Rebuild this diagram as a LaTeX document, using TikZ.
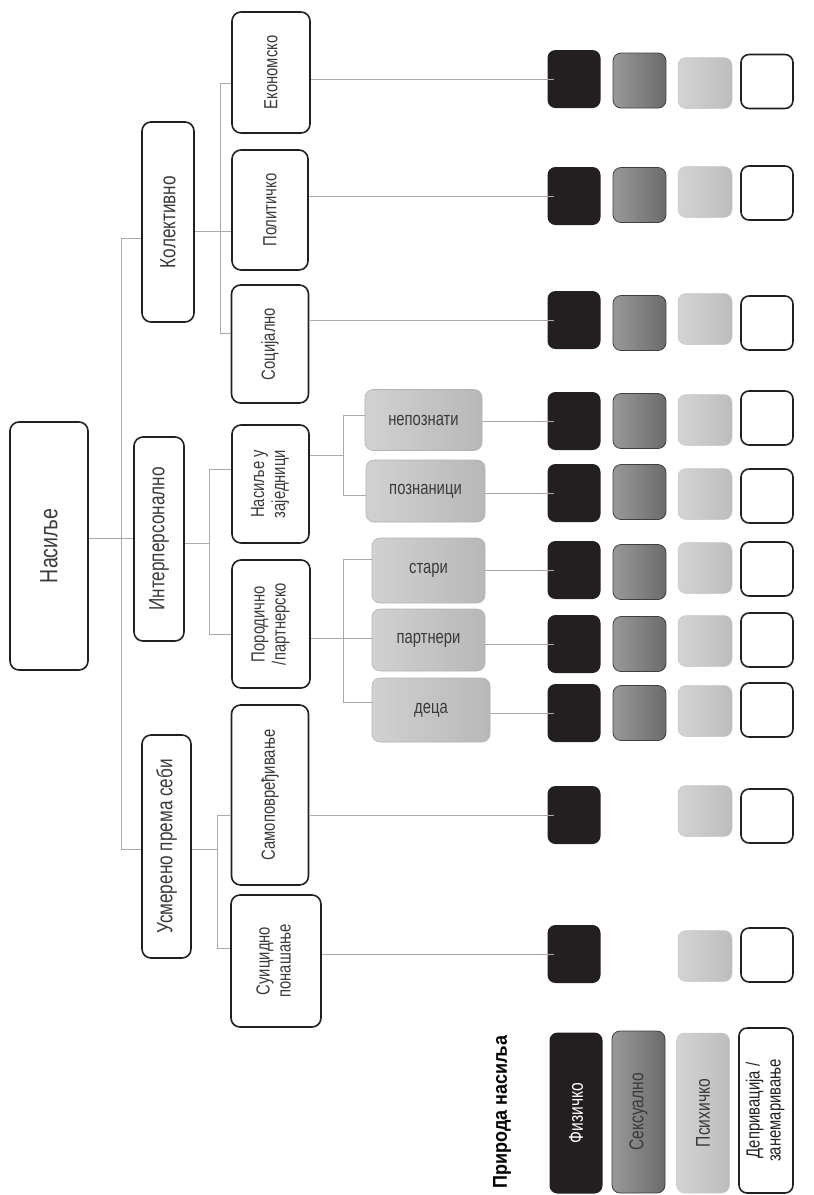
\documentclass[tikz,border=0pt]{standalone}
\usepackage{fontspec}
\usepackage{graphicx}
\setmainfont{Liberation Sans}[FakeStretch=0.78]
\newfontfamily\titlefont{Liberation Sans}[FakeStretch=0.9]
\definecolor{ink}{HTML}{231F20}
\definecolor{txt}{HTML}{3A3A3A}
\definecolor{wire}{HTML}{A7A9AC}

\begin{document}
\begin{tikzpicture}[x=1pt, y=-1pt, inner sep=0pt,
  box/.style={draw=ink, line width=1.6pt, rounded corners=9pt, fill=white, text=txt},
  gbox/.style={draw=black!30, line width=0.6pt, rounded corners=8pt, left color=black!18, right color=black!28, text=txt},
  blk/.style={fill=ink, rounded corners=8pt, minimum width=53pt, minimum height=58pt},
  drk/.style={draw=black!75, line width=0.8pt, rounded corners=8pt, left color=black!40, right color=black!58, minimum width=53pt, minimum height=55pt},
  lgt/.style={draw=black!22, line width=0.5pt, rounded corners=8pt, left color=black!17, right color=black!26, minimum width=54pt, minimum height=51pt},
  wht/.style={draw=ink, line width=1.6pt, rounded corners=8pt, fill=white, minimum width=52pt, minimum height=54pt},
  conn/.style={draw=wire, line width=0.9pt}]
\useasboundingbox (0,0) rectangle (814,1195);

% root and first level
\node[box, minimum width=78pt, minimum height=248pt] (nas) at (49,546) {\rotatebox{90}{\fontsize{25}{28}\selectfont Насиље}};
\node[box, minimum width=52pt, minimum height=200pt] (kol) at (168,222) {\rotatebox{90}{\fontsize{22}{25}\selectfont Колективно}};
\node[box, minimum width=50pt, minimum height=204pt] (int) at (159,539) {\rotatebox{90}{\fontsize{22}{25}\selectfont Интерперсонално}};
\node[box, minimum width=49pt, minimum height=223pt] (usm) at (166.5,846.5) {\rotatebox{90}{\fontsize{22}{25}\selectfont Усмерено према себи}};

% second level
\node[box, minimum width=78pt, minimum height=121pt] (eko) at (271,72.5) {\rotatebox{90}{\fontsize{19}{21}\selectfont Економско}};
\node[box, minimum width=76pt, minimum height=120pt] (pol) at (270,210) {\rotatebox{90}{\fontsize{19}{21}\selectfont Политичко}};
\node[box, minimum width=77pt, minimum height=118pt] (soc) at (270,344) {\rotatebox{90}{\fontsize{19}{21}\selectfont Социјално}};
\node[box, minimum width=77pt, minimum height=118pt] (zaj) at (270.5,484) {\rotatebox{90}{\fontsize{19}{21}\selectfont\begin{tabular}{@{}c@{}}Насиље у\\заједници\end{tabular}}};
\node[box, minimum width=78pt, minimum height=128pt] (por) at (271,624) {\rotatebox{90}{\fontsize{19}{21}\selectfont\begin{tabular}{@{}c@{}}Породично\\/партнерско\end{tabular}}};
\node[box, minimum width=77pt, minimum height=180pt] (sam) at (270,795) {\rotatebox{90}{\fontsize{19}{21}\selectfont Самоповређивање}};
\node[box, minimum width=90pt, minimum height=132pt] (sui) at (276,961) {\rotatebox{90}{\fontsize{19}{21}\selectfont\begin{tabular}{@{}c@{}}Суицидно\\понашање\end{tabular}}};

% third level
\node[gbox, minimum width=117pt, minimum height=61pt] (nep) at (423.5,420) {\fontsize{19}{21}\selectfont непознати};
\node[gbox, minimum width=119pt, minimum height=62pt] (poz) at (425.5,491) {\fontsize{19}{21}\selectfont познаници};
\node[gbox, minimum width=113pt, minimum height=65pt] (sta) at (428.5,570.5) {\fontsize{19}{21}\selectfont стари};
\node[gbox, minimum width=113pt, minimum height=62pt] (par) at (428.5,640) {\fontsize{19}{21}\selectfont партнери};
\node[gbox, minimum width=118pt, minimum height=64pt] (dec) at (431,710) {\fontsize{19}{21}\selectfont деца};

% tree lines
\coordinate (t0) at (121,538);
\coordinate (tk) at (121,238);
\coordinate (tu) at (121,849);
\draw[conn] (nas.east |- t0) -- (t0);
\draw[conn] (tk) -- (tu);
\draw[conn] (tk) -- (tk -| kol.west);
\draw[conn] (t0) -- (t0 -| int.west);
\draw[conn] (tu) -- (tu -| usm.west);

\coordinate (k1) at (220,231);
\coordinate (ktop) at (220,83);
\coordinate (kbot) at (220,333);
\draw[conn] (kol.east |- k1) -- (k1 -| pol.west);
\draw[conn] (ktop) -- (kbot);
\draw[conn] (ktop) -- (ktop -| eko.west);
\draw[conn] (kbot) -- (kbot -| soc.west);

\coordinate (i1) at (209,543);
\coordinate (itop) at (209,469);
\coordinate (ibot) at (209,634);
\draw[conn] (int.east |- i1) -- (i1);
\draw[conn] (itop) -- (ibot);
\draw[conn] (itop) -- (itop -| zaj.west);
\draw[conn] (ibot) -- (ibot -| por.west);

\coordinate (u1) at (217,849);
\coordinate (utop) at (217,815);
\coordinate (ubot) at (217,948);
\draw[conn] (usm.east |- u1) -- (u1);
\draw[conn] (utop) -- (ubot);
\draw[conn] (utop) -- (utop -| sam.west);
\draw[conn] (ubot) -- (ubot -| sui.west);

\coordinate (z1) at (343,455);
\coordinate (ztop) at (343,415);
\coordinate (zbot) at (343,495);
\draw[conn] (zaj.east |- z1) -- (z1);
\draw[conn] (ztop) -- (zbot);
\draw[conn] (ztop) -- (ztop -| nep.west);
\draw[conn] (zbot) -- (zbot -| poz.west);

\coordinate (p1) at (343,638);
\coordinate (ptop) at (343,559);
\coordinate (pbot) at (343,702);
\draw[conn] (por.east |- p1) -- (p1 -| par.west);
\draw[conn] (ptop) -- (pbot);
\draw[conn] (ptop) -- (ptop -| sta.west);
\draw[conn] (pbot) -- (pbot -| dec.west);

% squares
\node[blk] (eko1) at (574,79) {};
\node[drk] (eko2) at (639.5,80.5) {};
\node[lgt] (eko3) at (705,83) {};
\node[wht] (eko4) at (767,81.5) {};
\node[blk] (pol1) at (574,196) {};
\node[drk] (pol2) at (639.5,195) {};
\node[lgt] (pol3) at (705,192) {};
\node[wht] (pol4) at (767,193) {};
\node[blk] (soc1) at (574,320) {};
\node[drk] (soc2) at (639.5,323) {};
\node[lgt] (soc3) at (705,319) {};
\node[wht] (soc4) at (767,323) {};
\node[blk] (nep1) at (574,421) {};
\node[drk] (nep2) at (639.5,421) {};
\node[lgt] (nep3) at (705,420) {};
\node[wht] (nep4) at (767,418) {};
\node[blk] (poz1) at (574,493) {};
\node[drk] (poz2) at (639.5,492) {};
\node[lgt] (poz3) at (705,494) {};
\node[wht] (poz4) at (767,496) {};
\node[blk] (sta1) at (574,570) {};
\node[drk] (sta2) at (639.5,572) {};
\node[lgt] (sta3) at (705,568) {};
\node[wht] (sta4) at (767,569) {};
\node[blk] (par1) at (574,644) {};
\node[drk] (par2) at (639.5,644) {};
\node[lgt] (par3) at (705,641) {};
\node[wht] (par4) at (767,640) {};
\node[blk] (dec1) at (574,713) {};
\node[drk] (dec2) at (639.5,713) {};
\node[lgt] (dec3) at (705,711) {};
\node[wht] (dec4) at (767,710) {};
\node[blk] (sam1) at (574,815) {};
\node[lgt] (sam3) at (705,811) {};
\node[wht] (sam4) at (767,816) {};
\node[blk] (sui1) at (574,954) {};
\node[lgt] (sui3) at (705,956) {};
\node[wht] (sui4) at (767,955) {};

% lines to the squares
\draw[conn] (eko.east |- eko1) -- ([xshift=7pt]eko1.west);
\draw[conn] (pol.east |- pol1) -- ([xshift=7pt]pol1.west);
\draw[conn] (soc.east |- soc1) -- ([xshift=7pt]soc1.west);
\draw[conn] (nep.east |- nep1) -- ([xshift=7pt]nep1.west);
\draw[conn] (poz.east |- poz1) -- ([xshift=7pt]poz1.west);
\draw[conn] (sta.east |- sta1) -- ([xshift=7pt]sta1.west);
\draw[conn] (par.east |- par1) -- ([xshift=7pt]par1.west);
\draw[conn] (dec.east |- dec1) -- ([xshift=7pt]dec1.west);
\draw[conn] (sam.east |- sam1) -- ([xshift=7pt]sam1.west);
\draw[conn] (sui.east |- sui1) -- ([xshift=7pt]sui1.west);

% legend
\node (tit) at (502,1112) {\rotatebox{90}{\titlefont\bfseries\fontsize{20}{22}\selectfont Природа насиља}};
\node[blk, minimum width=53pt, minimum height=161pt] (fiz) at (576,1113) {\rotatebox{90}{\color{white}\fontsize{20}{22}\selectfont Физичко}};
\node[drk, minimum width=53pt, minimum height=162pt] (sek) at (638.5,1112) {\rotatebox{90}{\color{txt}\fontsize{20}{22}\selectfont Сексуално}};
\node[lgt, minimum width=53pt, minimum height=160pt] (psi) at (703,1113) {\rotatebox{90}{\color{txt}\fontsize{20}{22}\selectfont Психичко}};
\node[wht, minimum width=54pt, minimum height=165pt] (dep) at (766,1110.5) {\rotatebox{90}{\color{ink}\fontsize{19}{21}\selectfont\begin{tabular}{@{}c@{}}Депривација /\\занемаривање\end{tabular}}};
\end{tikzpicture}
\end{document}
